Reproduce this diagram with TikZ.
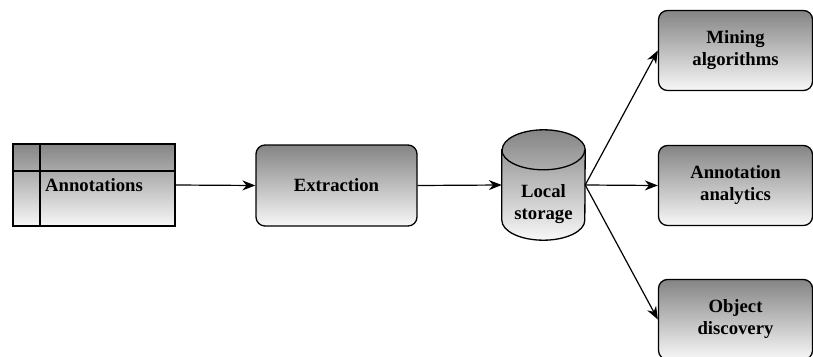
\documentclass[tikz,border=0pt]{standalone}
\usepackage{fontspec}
\setmainfont{Liberation Serif}
\usetikzlibrary{shapes.geometric,arrows.meta,positioning}

\begin{document}
\begin{tikzpicture}[x=1pt, y=-1pt,
  every node/.style={font=\fontsize{18.7}{22}\selectfont\bfseries, align=center},
  greybox/.style={draw, line width=1.3pt, top color=black!48, bottom color=black!3, inner sep=2pt},
  task/.style={greybox, rounded corners=9pt, minimum width=161pt, minimum height=81pt},
  result/.style={greybox, rounded corners=9pt, minimum width=154pt, minimum height=80pt},
  flow/.style={-{Stealth[length=13pt,width=10pt]}, line width=1.2pt}]
\useasboundingbox (0,0) rectangle (813,356);
% input table
\node[greybox, minimum width=162pt, minimum height=82pt] (ann) at (94,185) {Annotations};
\draw[line width=1.3pt] ([xshift=27.5pt]ann.north west) -- ([xshift=27.5pt]ann.south west);
\draw[line width=1.3pt] ([yshift=-27.5pt]ann.north west) -- ([yshift=-27.5pt]ann.north east);
% processing
\node[task] (ext) at (336.5,185.5) {Extraction};
\node[minimum width=83pt, minimum height=110pt, inner sep=0pt] (store) at (543.5,185) {};
\draw[line width=1.3pt, top color=black!48, bottom color=black!3]
  ([yshift=-20pt]store.north west) -- ([yshift=20pt]store.south west)
  arc[start angle=180, end angle=360, x radius=41.5pt, y radius=20pt]
  -- ([yshift=-20pt]store.north east)
  arc[start angle=0, end angle=180, x radius=41.5pt, y radius=20pt] -- cycle;
\draw[line width=1.3pt] ([yshift=-20pt]store.north west)
  arc[start angle=180, end angle=360, x radius=41.5pt, y radius=20pt];
\node (storetxt) at ([yshift=-19pt]store.center) {Local\\storage};
% outputs
\node[result] (mine) at (735.5,50.5) {Mining\\algorithms};
\node[result] (anal) at (735.5,185.5) {Annotation\\analytics};
\node[result] (disc) at (735.5,319.5) {Object\\discovery};
\draw[flow] (ann.east) -- (ext.west);
\draw[flow] (ext.east) -- (store.west);
\draw[flow] (store.east) -- (mine.west);
\draw[flow] (store.east) -- (anal.west);
\draw[flow] (store.east) -- (disc.west);
\end{tikzpicture}
\end{document}
